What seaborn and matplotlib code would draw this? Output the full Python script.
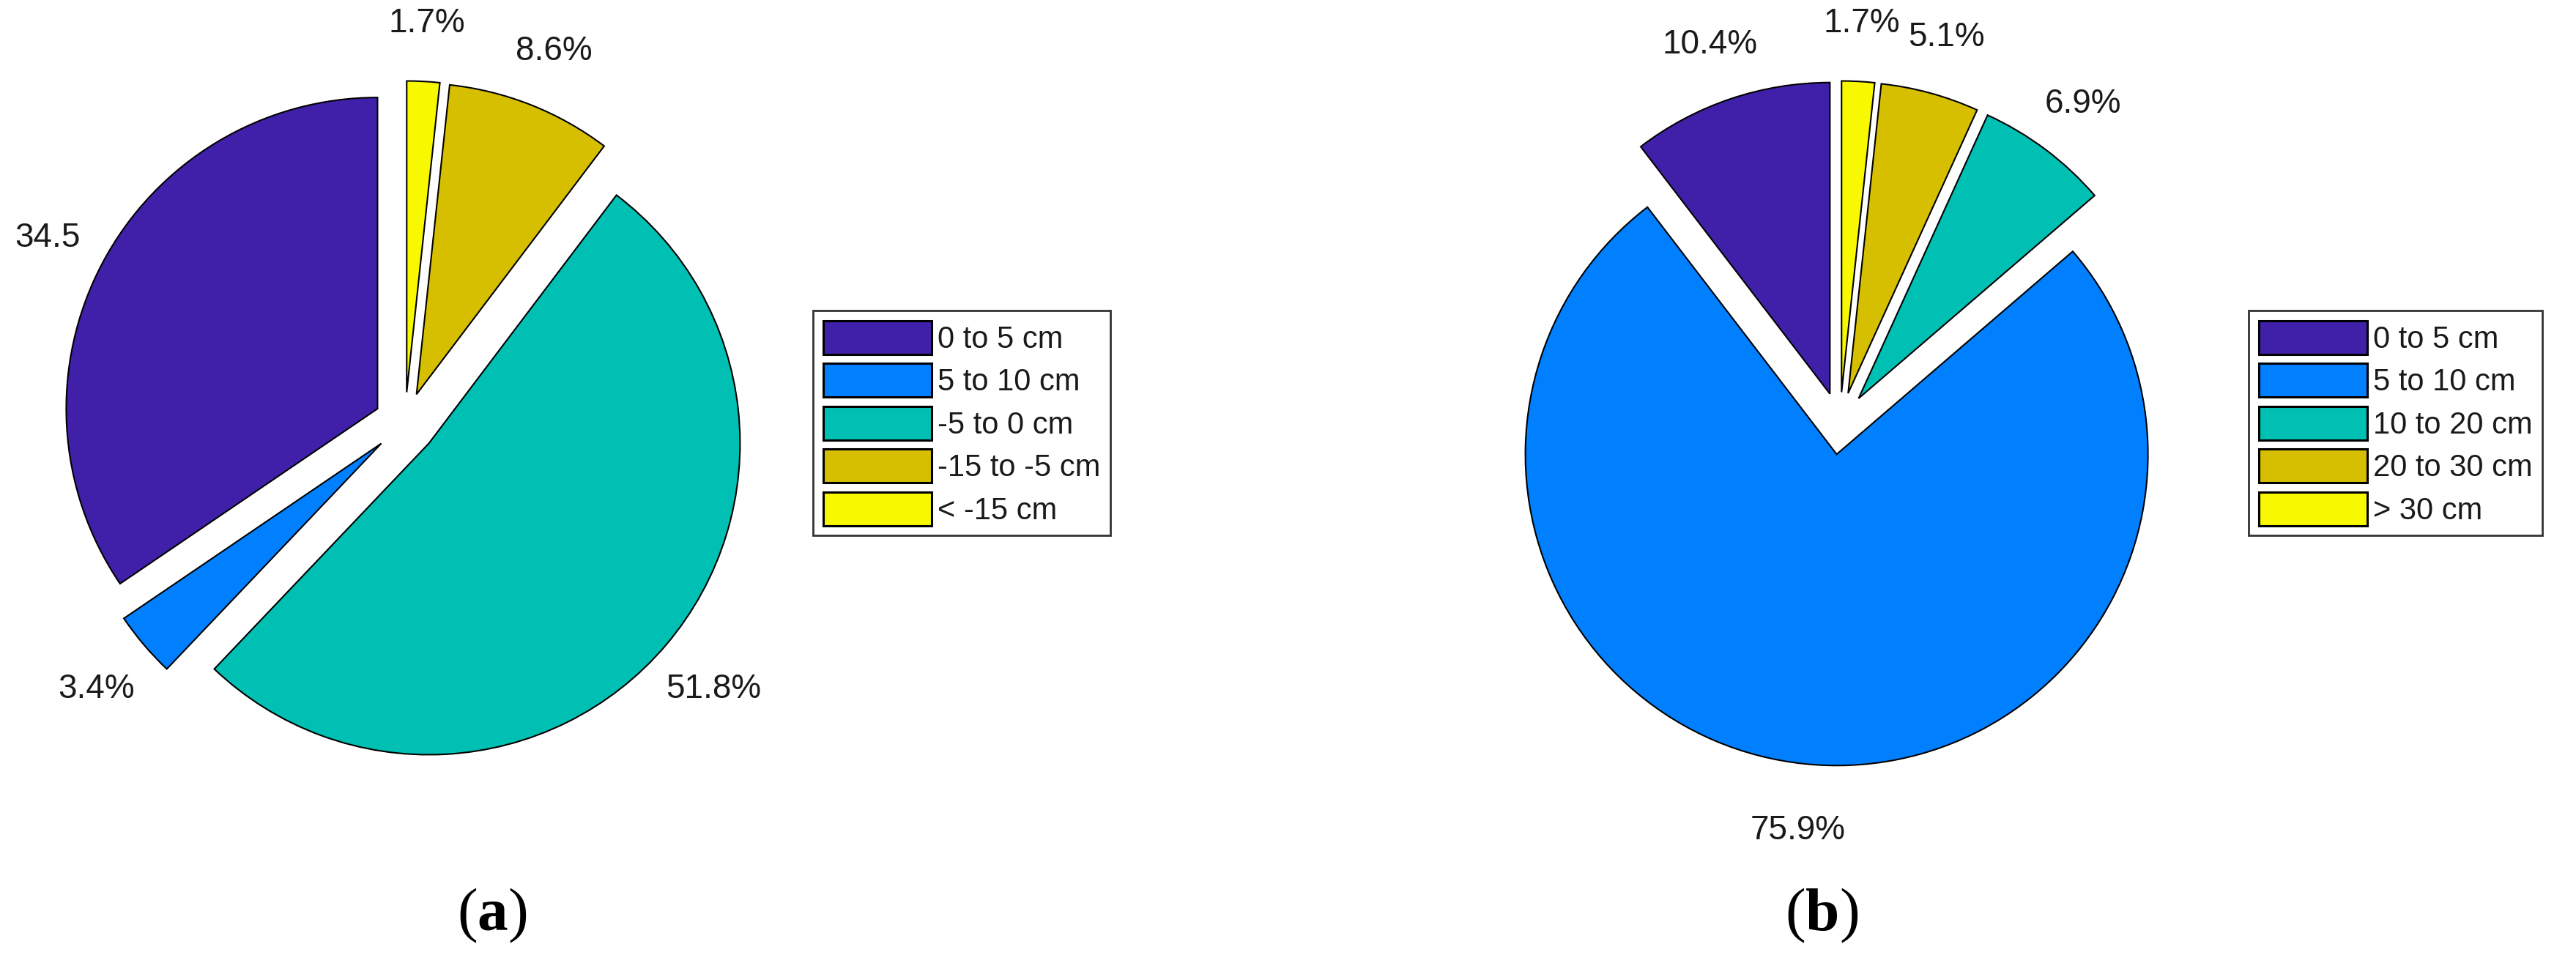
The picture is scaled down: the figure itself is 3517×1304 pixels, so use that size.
import matplotlib
matplotlib.use("Agg")
import matplotlib.pyplot as plt
import matplotlib.transforms as mtransforms
import seaborn as sns

sns.set_style("white")
plt.rcParams["font.family"] = ["Liberation Sans", "DejaVu Sans"]
plt.rcParams["mathtext.fontset"] = "custom"
plt.rcParams["mathtext.rm"] = "Liberation Serif"
plt.rcParams["mathtext.bf"] = "Liberation Serif:bold"

# ------------------------------------------------------------------
# Dados
# ------------------------------------------------------------------
categorias_a = ["0 to 5 cm", "5 to 10 cm", "-5 to 0 cm", "-15 to -5 cm", "< -15 cm"]
valores_a = [34.5, 3.4, 51.8, 8.6, 1.7]
rotulos_a = ["34.5", "3.4%", "51.8%", "8.6%", "1.7%"]

categorias_b = ["0 to 5 cm", "5 to 10 cm", "10 to 20 cm", "20 to 30 cm", "> 30 cm"]
valores_b = [10.4, 75.9, 6.9, 5.1, 1.7]
rotulos_b = ["10.4%", "75.9%", "6.9%", "5.1%", "1.7%"]

cores = ["#4120A9", "#0080FF", "#00BFB3", "#D5BF00", "#F8F800"]

W, H = 3517, 1304
fig = plt.figure(figsize=(W / 100, H / 100), dpi=100)


def desenha_pizza(cx, cy, valores, rotulos, categorias, leg_x, sub_x, legenda_sub):
    r = 425
    lim = 1.4
    ax = fig.add_axes([(cx - lim * r) / W, 1 - (cy + lim * r) / H,
                       2 * lim * r / W, 2 * lim * r / H])
    fatias, textos = ax.pie(
        valores, labels=rotulos, colors=cores, explode=[0.1] * len(valores),
        startangle=90, counterclock=True, labeldistance=1.2,
        wedgeprops=dict(edgecolor="black", linewidth=1.5),
        textprops=dict(fontsize=33, color="#1a1a1a"),
    )
    # rótulos centrados, um pouco abaixo (como no MATLAB)
    desloc = mtransforms.offset_copy(ax.transData, fig=fig, x=0, y=-6, units="dots")
    for t in textos:
        t.set_ha("center")
        t.set_va("center")
        t.set_transform(desloc)
    ax.set_xlim(-lim, lim)
    ax.set_ylim(-lim, lim)

    leg = fig.legend(
        fatias, categorias, loc="upper left",
        bbox_to_anchor=(leg_x / W, 1 - 424 / H), borderaxespad=0,
        fontsize=30, frameon=True, fancybox=False, framealpha=1,
        edgecolor="#333333", handlelength=3.55, handleheight=1.32,
        labelspacing=0.3, handletextpad=0.19, borderpad=0.33,
    )
    leg.get_frame().set_linewidth(2)
    for h in leg.legend_handles:
        h.set_linewidth(2.2)
    for t in leg.get_texts():
        t.set_color("#1a1a1a")

    fig.text(sub_x / W, 1 - 1250 / H, legenda_sub, fontsize=60,
             ha="center", va="center", color="black")


desenha_pizza(553, 578, valores_a, rotulos_a, categorias_a, 1110, 672,
              r"$\mathrm{(}\mathbf{a}\mathrm{)}$")
desenha_pizza(2512, 578, valores_b, rotulos_b, categorias_b, 3070, 2487,
              r"$\mathrm{(}\mathbf{b}\mathrm{)}$")

fig.savefig("out.png", dpi=100, facecolor="white")
